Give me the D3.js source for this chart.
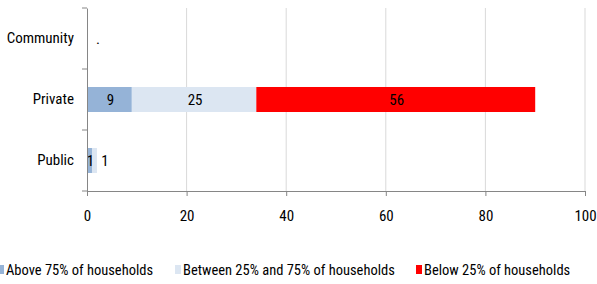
<!DOCTYPE html>
<html>
<head>
<meta charset="utf-8">
<script src="https://cdn.jsdelivr.net/npm/d3@7"></script>
<style>
  body { margin: 0; background: #fff; }
  text { font-family: Roboto, sans-serif; font-stretch: condensed; fill: #000; }
</style>
</head>
<body>
<svg id="chart"></svg>
<script>
let categories = ["Community", "Private", "Public"];
let seriesNames = ["Above 75% of households", "Between 25% and 75% of households", "Below 25% of households"];
let above75 = [0, 9, 1];
let between = [0, 25, 1];
let below25 = [0, 56, 0];
let xTicks = [0, 20, 40, 60, 80, 100];
let colors = ["#95b3d7", "#dce6f2", "#ff0000"];

let width = 597;
let height = 284;
let plotLeft = 87, plotRight = 585, plotTop = 8, plotBottom = 191;

let svg = d3.select("#chart").attr("width", width).attr("height", height);

let xScale = d3.scaleLinear().domain([0, 100]).range([plotLeft, plotRight]);
let yScale = d3.scaleBand().domain(categories).range([plotTop, plotBottom]).paddingInner(0.59).paddingOuter(0.295);

// gridlines
svg.append("g")
  .selectAll("line")
  .data(xTicks.slice(1))
  .enter()
  .append("line")
  .attr("x1", d => xScale(d))
  .attr("x2", d => xScale(d))
  .attr("y1", plotTop)
  .attr("y2", plotBottom)
  .attr("stroke", "#d9d9d9")
  .attr("stroke-width", 1);

// stacked data
let series = [above75, between, below25];
let stacked = categories.map((c, i) => {
  let x0 = 0;
  return series.map((s, k) => {
    let seg = { cat: c, k: k, x0: x0, x1: x0 + s[i], v: s[i] };
    x0 += s[i];
    return seg;
  });
}).flat().filter(d => d.v > 0);

svg.append("g")
  .selectAll("rect")
  .data(stacked)
  .enter()
  .append("rect")
  .attr("x", d => xScale(d.x0))
  .attr("y", d => yScale(d.cat))
  .attr("width", d => xScale(d.x1) - xScale(d.x0))
  .attr("height", yScale.bandwidth())
  .attr("fill", d => colors[d.k]);

// labels
svg.append("g")
  .selectAll("text")
  .data(stacked)
  .enter()
  .append("text")
  .attr("x", d => {
    let w = xScale(d.x1) - xScale(d.x0);
    if (w < 12 && d.k > 0) return xScale(d.x1) + 8;
    return (xScale(d.x0) + xScale(d.x1)) / 2 + 1;
  })
  .attr("y", d => yScale(d.cat) + yScale.bandwidth() / 2)
  .attr("dy", "0.35em")
  .attr("text-anchor", "middle")
  .style("font-size", "15px")
  .text(d => d.v);

// zero label for Community
svg.append("text")
  .attr("x", xScale(2.2))
  .attr("y", yScale("Community") + yScale.bandwidth() / 2)
  .attr("dy", "0.35em")
  .attr("text-anchor", "middle")
  .style("font-size", "15px")
  .text(".");

// axes
let yAxis = d3.axisLeft(yScale).tickSize(0).tickPadding(13);
let gy = svg.append("g").attr("transform", "translate(" + plotLeft + ",0)").call(yAxis);
gy.select(".domain").attr("stroke", "#868686");
gy.selectAll("text").style("font-size", "15px").attr("font-family", null);

// category boundary ticks
let bounds = [plotTop].concat(categories.map(c => yScale(c) + yScale.bandwidth() + yScale.step() * yScale.paddingInner() / 2));
bounds[bounds.length - 1] = plotBottom;
svg.append("g")
  .selectAll("line")
  .data(bounds)
  .enter()
  .append("line")
  .attr("x1", plotLeft - 5)
  .attr("x2", plotLeft)
  .attr("y1", d => d)
  .attr("y2", d => d)
  .attr("stroke", "#868686");

let xAxis = d3.axisBottom(xScale).tickValues(xTicks).tickSize(5).tickPadding(14);
let gx = svg.append("g").attr("transform", "translate(0," + plotBottom + ")").call(xAxis);
gx.select(".domain").attr("stroke", "#868686").attr("d", "M" + plotLeft + ",0.5H" + plotRight);
gx.selectAll(".tick line").attr("stroke", "#868686");
gx.selectAll("text").style("font-size", "15px").attr("font-family", null);

// legend (x = start of text)
let legendX = [6, 183, 424];
let legend = svg.append("g")
  .selectAll("g")
  .data(seriesNames)
  .enter()
  .append("g")
  .attr("transform", (d, i) => "translate(" + legendX[i] + ",270)");

legend.append("rect")
  .attr("x", -8)
  .attr("y", -5)
  .attr("width", 6)
  .attr("height", 9)
  .attr("fill", (d, i) => colors[i]);

legend.append("text")
  .attr("x", 0)
  .attr("y", 0)
  .attr("dy", "0.35em")
  .style("font-size", "14.5px")
  .text(d => d);
</script>
</body>
</html>
